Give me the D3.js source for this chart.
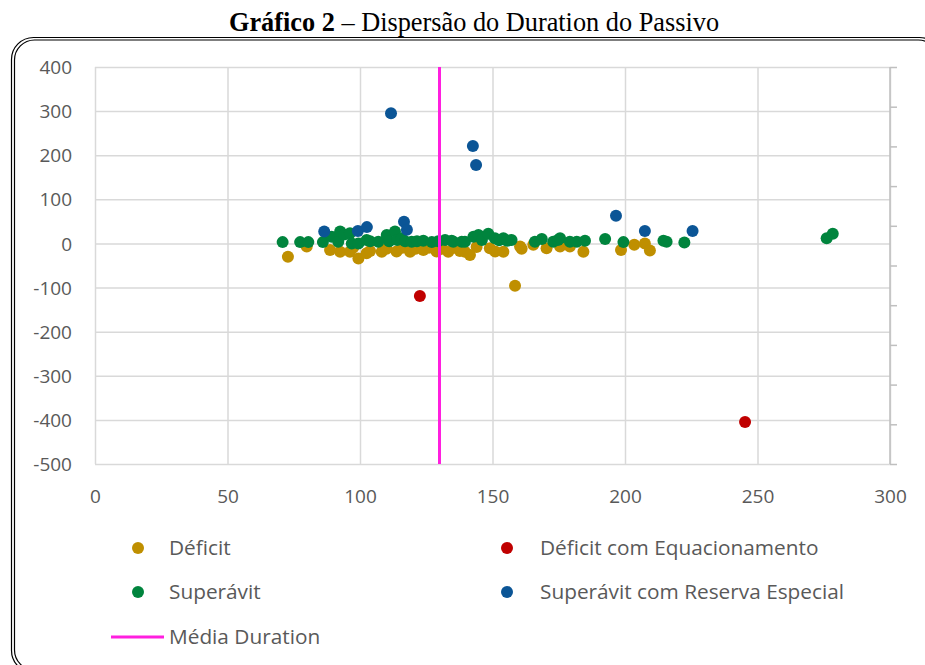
<!DOCTYPE html>
<html>
<head>
<meta charset="utf-8">
<script src="https://cdn.jsdelivr.net/npm/d3@7"></script>
<style>
  body { margin: 0; background: #fff; }
  .chart_label { font-family: "Open Sans", Lato, sans-serif; font-size: 19px; fill: #595959; }
  .legend_label { font-family: "Open Sans", Lato, sans-serif; font-size: 20.8px; fill: #595959; }
</style>
</head>
<body>
<div id="chart"></div>
<script>
// values: [duration, value]
const deficit = [
  [72.8,-30],[79.9,-7],[88.7,-15],[92.5,-19],[96.2,-19],[97.4,-10],[99.4,-34],[102.5,-22],
  [103.8,-17],[108.2,-19],[110,-12],[113.8,-18],[116,-10],[118.9,-19],[121,-12],[123.9,-15],
  [126,-10],[128.9,-18],[131,-12],[133.3,-19],[135.5,-10],[137.7,-17],[139.6,-19],[141.5,-26],
  [144,-8],[149,-11],[151,-18],[154.1,-19],[158.5,-96],[160.4,-7],[161,-12],[165.4,-3],
  [170.4,-11],[175.5,-7],[179.2,-7],[184.3,-19],[198.5,-15],[203.5,-3],[207.5,0],[209.4,-16]
];
const deficitEquacionamento = [[122.6,-119],[245.3,-405]];
const superavit = [
  [70.8,3],[77.4,3],[80.5,3],[86,3],[89.3,15],[91.8,4],[92.5,27],[94,20],[96.2,23],[96.9,0],
  [99.4,0],[102.5,8],[103.8,5],[106.9,4],[110.1,19],[111,5],[113.2,27],[114,8],[115.7,12],
  [117,5],[119.5,4],[121.5,5],[123.9,6],[127.1,3],[129.5,5],[132.1,8],[134.6,6],[135.2,4],
  [138.4,4],[139.6,4],[142.8,15],[144.7,19],[146,8],[148.4,22],[150.9,12],[152.5,7],[154.1,12],
  [155.5,6],[157.2,8],[166,4],[168.6,10],[172.9,4],[174.7,8],[175.5,12],[179.2,4],[181.8,4],
  [184.9,6],[192.5,10],[199.4,3],[214.5,6],[215.7,4],[222.4,2],[276.1,12],[278.4,22]
];
const superavitReserva = [
  [86.5,27],[99.2,28],[102.6,37],[111.7,295],[116.6,49],[117.7,31],[142.6,221],[143.8,178],
  [196.6,63],[207.5,28],[225.5,28]
];
const mediaDuration = 130;
const xTicks = [0, 50, 100, 150, 200, 250, 300];
const yTicks = [400, 300, 200, 100, 0, -100, -200, -300, -400, -500];

const series = [
  { name: "Déficit", data: deficit, color: "#bf8f00" },
  { name: "Déficit com Equacionamento", data: deficitEquacionamento, color: "#c00000" },
  { name: "Superávit", data: superavit, color: "#00843d" },
  { name: "Superávit com Reserva Especial", data: superavitReserva, color: "#0b5596" }
];

const W = 925, H = 665;
const margin = { top: 67, right: 35, bottom: 201, left: 95 };
const width = W - margin.left - margin.right;
const height = H - margin.top - margin.bottom;

const svg = d3.select("#chart").append("svg")
  .attr("width", W)
  .attr("height", H);

// double rounded frame
svg.append("rect")
  .attr("x", 11.5).attr("y", 37.5).attr("width", 930).attr("height", 635)
  .attr("rx", 22).attr("fill", "none").attr("stroke", "#000").attr("stroke-width", 1.2);
svg.append("rect")
  .attr("x", 14.5).attr("y", 40).attr("width", 924).attr("height", 630)
  .attr("rx", 20).attr("fill", "none").attr("stroke", "#000").attr("stroke-width", 1.2);

// title
const title = svg.append("text")
  .attr("x", 474).attr("y", 31)
  .attr("text-anchor", "middle")
  .style("font-family", "'Liberation Serif', 'Times New Roman', serif")
  .style("font-size", "26.3px")
  .attr("fill", "#000");
title.append("tspan").attr("font-weight", "bold").text("Gráfico 2");
title.append("tspan").text(" – Dispersão do Duration do Passivo");

const g = svg.append("g")
  .attr("transform", "translate(" + margin.left + "," + margin.top + ")");

const x = d3.scaleLinear().domain([0, 300]).range([0, width]);
const y = d3.scaleLinear().domain([-500, 400]).range([height, 0]);
const yRight = d3.scaleLinear().domain([0, 10]).range([height, 0]);

// grid + labels (plain hyphen for negatives)
g.append("g")
  .call(d3.axisLeft(y).tickValues(yTicks).tickSize(-width).tickPadding(23).tickFormat(d => String(d)))
  .call(ax => {
    ax.select(".domain").remove();
    ax.selectAll(".tick line").attr("stroke", "#d9d9d9").attr("stroke-width", 1.5);
    ax.selectAll(".tick text").attr("class", "chart_label").attr("dy", "0.35em");
  });

g.append("g")
  .attr("transform", "translate(0," + height + ")")
  .call(d3.axisBottom(x).tickValues(xTicks).tickSize(-height).tickPadding(32).tickFormat(d => String(d)))
  .call(ax => {
    ax.select(".domain").remove();
    ax.selectAll(".tick line").attr("stroke", "#d9d9d9").attr("stroke-width", 1.5);
    ax.selectAll(".tick text").attr("class", "chart_label").attr("dy", "0.35em");
  });

// secondary axis on the right, ticks only
g.append("g")
  .attr("transform", "translate(" + width + ",0)")
  .call(d3.axisRight(yRight).ticks(10).tickSize(7).tickFormat(""))
  .call(ax => {
    ax.select(".domain").attr("stroke", "#bfbfbf").attr("stroke-width", 1.5)
      .attr("d", "M0,0V" + height);
    ax.selectAll(".tick line").attr("stroke", "#bfbfbf").attr("stroke-width", 1.5);
  });

// points
series.forEach(s => {
  g.append("g").selectAll("circle")
    .data(s.data)
    .enter().append("circle")
      .attr("cx", d => x(d[0]))
      .attr("cy", d => y(d[1]))
      .attr("r", 6)
      .attr("fill", s.color);
});

// mean line on top
g.append("line")
  .attr("x1", x(mediaDuration)).attr("x2", x(mediaDuration))
  .attr("y1", y(400)).attr("y2", y(-500))
  .attr("stroke", "#ff1fdf").attr("stroke-width", 3);

// legend
const legendPos = [[138, 548], [507, 548], [138, 592], [507, 592]];
series.forEach((s, i) => {
  const lg = svg.append("g").attr("transform", "translate(" + legendPos[i][0] + "," + legendPos[i][1] + ")");
  lg.append("circle").attr("r", 6).attr("fill", s.color);
  lg.append("text").attr("class", "legend_label").attr("x", i % 2 ? 33 : 31).attr("dy", "0.35em").text(s.name);
});
const ll = svg.append("g").attr("transform", "translate(111,637)");
ll.append("line").attr("x1", 0).attr("x2", 53).attr("stroke", "#ff1fdf").attr("stroke-width", 3);
ll.append("text").attr("class", "legend_label").attr("x", 58).attr("dy", "0.35em").text("Média Duration");
</script>
</body>
</html>
